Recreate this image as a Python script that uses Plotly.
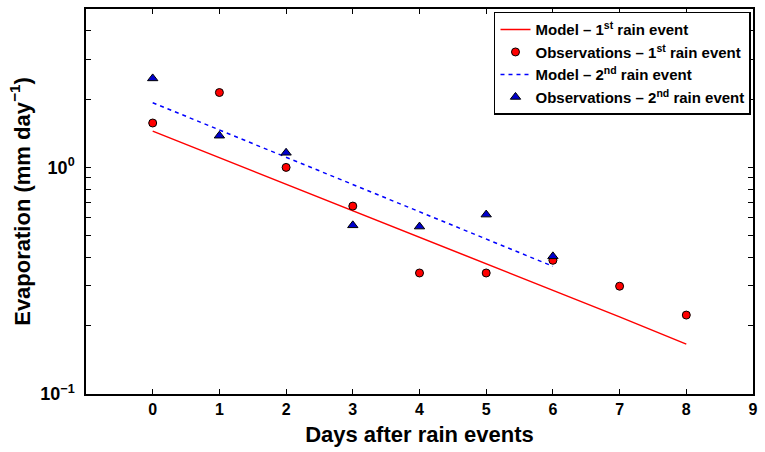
import plotly.graph_objects as go

# Days after each rain event
days_obs1 = [0, 1, 2, 3, 4, 5, 6, 7, 8]
days_obs2 = [0, 1, 2, 3, 4, 5, 6]

# Observed evaporation (mm/day)
obs_event1 = [1.57, 2.14, 1.00, 0.675, 0.342, 0.342, 0.389, 0.299, 0.223]
obs_event2 = [2.47, 1.38, 1.16, 0.555, 0.548, 0.619, 0.405]

# Exponential-decay model curves (mm/day)
days_model1 = [0, 1, 2, 3, 4, 5, 6, 7, 8]
model_event1 = [1.445, 1.104, 0.843, 0.644, 0.492, 0.376, 0.287, 0.219, 0.166]
days_model2 = [0, 1, 2, 3, 4, 5, 6]
model_event2 = [1.93, 1.464, 1.110, 0.842, 0.639, 0.484, 0.366]

# Axis ticks
x_tickvals = [0, 1, 2, 3, 4, 5, 6, 7, 8, 9]
y_major = [0.1, 1]
y_major_text = ["10<sup>−1</sup>", "10<sup>0</sup>"]
y_minor = [0.2, 0.3, 0.4, 0.5, 0.6, 0.7, 0.8, 0.9, 2, 3, 4, 5]

FONT = "Liberation Sans, Arial, Helvetica, sans-serif"

fig = go.Figure()

fig.add_trace(go.Scatter(
    x=days_model1, y=model_event1, mode="lines",
    name="Model – 1<sup>st</sup> rain event",
    line=dict(color="#ff0000", width=1.5),
))
fig.add_trace(go.Scatter(
    x=days_obs1, y=obs_event1, mode="markers",
    name="Observations – 1<sup>st</sup> rain event",
    marker=dict(symbol="circle", size=8, color="#ff0000",
                line=dict(color="black", width=1)),
))
fig.add_trace(go.Scatter(
    x=days_model2, y=model_event2, mode="lines",
    name="Model – 2<sup>nd</sup> rain event",
    line=dict(color="#0000ff", width=1.5, dash="4px,4px"),
))
fig.add_trace(go.Scatter(
    x=days_obs2, y=obs_event2, mode="markers",
    name="Observations – 2<sup>nd</sup> rain event",
    marker=dict(symbol="triangle-up", size=9, color="#0000cc",
                line=dict(color="black", width=1)),
))

y_tickvals = y_major + y_minor
y_ticktext = y_major_text + [""] * len(y_minor)

fig.update_layout(
    width=765, height=452,
    margin=dict(l=86, r=9, t=7, b=58),
    paper_bgcolor="white", plot_bgcolor="white",
    font=dict(family=FONT, color="black", weight="bold"),
    showlegend=True,
    legend=dict(
        x=0.997, y=0.993, xanchor="right", yanchor="top",
        bgcolor="white", bordercolor="black", borderwidth=1.5,
        font=dict(family=FONT, size=15, color="black", weight="bold"),
        itemwidth=30, tracegroupgap=0,
    ),
    xaxis=dict(
        range=[-1, 9], tickvals=x_tickvals,
        ticks="inside", ticklen=5, tickwidth=1, tickcolor="black",
        showline=True, linecolor="black", linewidth=1.5, mirror="ticks",
        showgrid=False, zeroline=False,
        tickfont=dict(family=FONT, size=16, color="black", weight="bold"),
        title=dict(text="Days after rain events", standoff=10,
                   font=dict(family=FONT, size=22, color="black", weight="bold")),
    ),
    yaxis=dict(
        type="log", range=[-1, 0.699],
        tickvals=y_tickvals, ticktext=y_ticktext,
        ticks="inside", ticklen=5, tickwidth=1, tickcolor="black",
        ticklabelstandoff=6,
        showline=True, linecolor="black", linewidth=1.5, mirror="ticks",
        showgrid=False, zeroline=False,
        tickfont=dict(family=FONT, size=18, color="black", weight="bold"),
        title=dict(text="Evaporation (mm day<sup>−1</sup>)", standoff=4,
                   font=dict(family=FONT, size=22, color="black", weight="bold")),
    ),
)

fig.write_html("out.html")
